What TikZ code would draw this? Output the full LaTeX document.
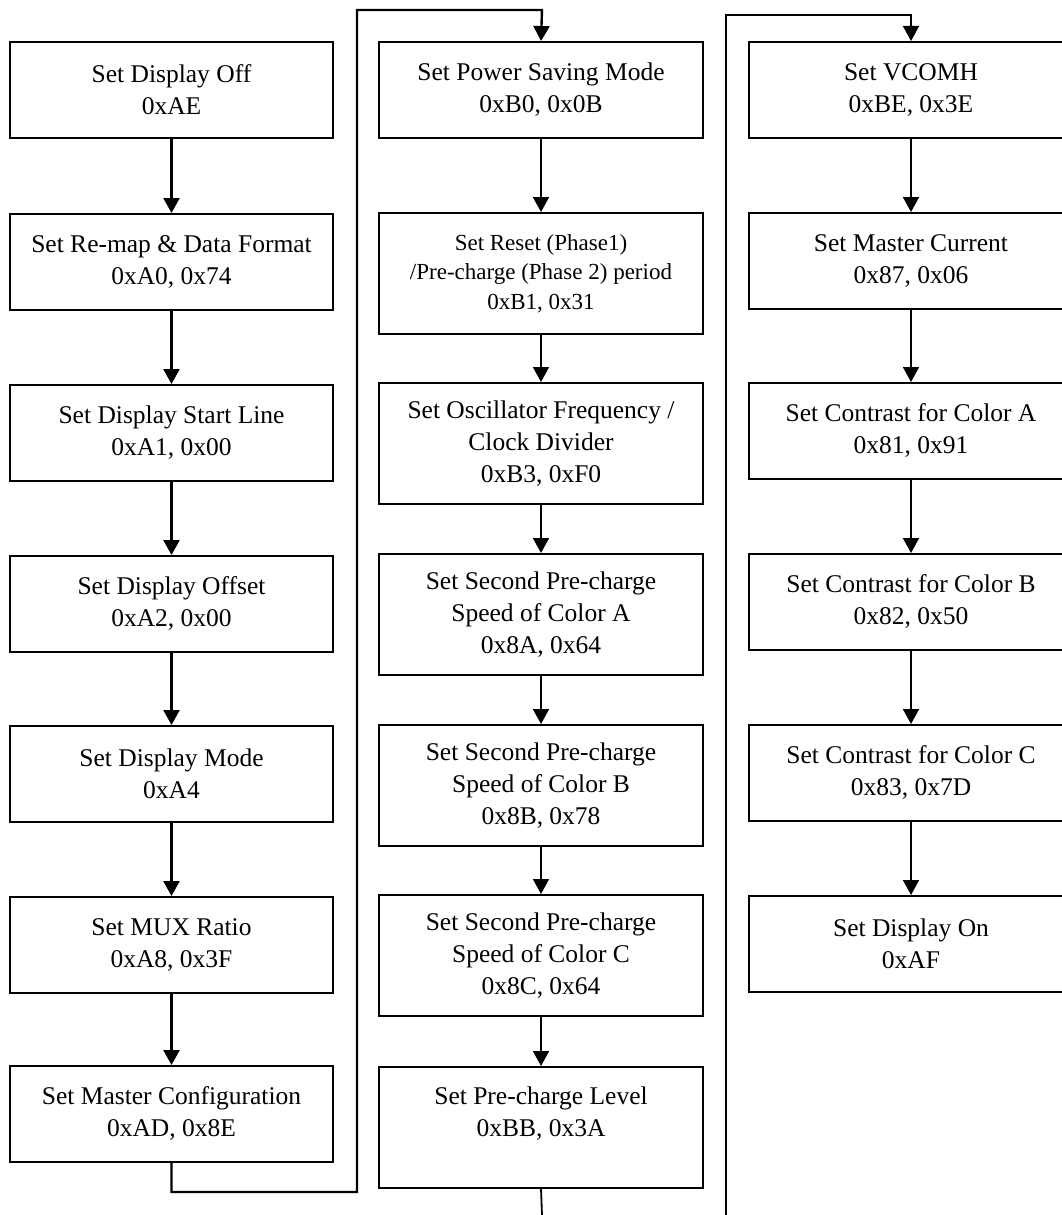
\documentclass[tikz,border=0pt]{standalone}
\usepackage{fontspec}
\setmainfont{Liberation Serif}
\usetikzlibrary{arrows.meta}
\tikzset{
  cmdbox/.style={draw, line width=1.6pt, anchor=north, minimum width=324pt,
    minimum height=96pt, align=center, inner sep=0pt,
    font=\fontsize{25.5}{32}\selectfont},
  cmdtall/.style={cmdbox, minimum height=121pt},
  flow/.style={line width=1.8pt, -{Triangle[length=15pt,width=16pt]}},
  flowbold/.style={flow, line width=2.4pt}
}
\begin{document}
\begin{tikzpicture}[x=1pt,y=-1pt]
  \useasboundingbox (0,0) rectangle (1062,1215);
  \node[cmdbox,minimum width=323pt] (lc1) at (171.5,41) {Set Display Off\\0xAE};
  \node[cmdbox,minimum width=323pt] (lc2) at (171.5,213) {Set Re-map \& Data Format\\0xA0, 0x74};
  \node[cmdbox,minimum width=323pt] (lc3) at (171.5,384) {Set Display Start Line\\0xA1, 0x00};
  \node[cmdbox,minimum width=323pt] (lc4) at (171.5,555) {Set Display Offset\\0xA2, 0x00};
  \node[cmdbox,minimum width=323pt] (lc5) at (171.5,725) {Set Display Mode\\0xA4};
  \node[cmdbox,minimum width=323pt] (lc6) at (171.5,896) {Set MUX Ratio\\0xA8, 0x3F};
  \node[cmdbox,minimum width=323pt] (lc7) at (171.5,1065) {Set Master Configuration\\0xAD, 0x8E};
  \node[cmdbox] (mc1) at (541,41) {Set Power Saving Mode\\0xB0, 0x0B};
  \node[cmdtall,font=\fontsize{23}{29.5}\selectfont] (mc2) at (541,212) {Set Reset (Phase1)\\/Pre-charge (Phase 2) period\\0xB1, 0x31};
  \node[cmdtall] (mc3) at (541,382) {Set Oscillator Frequency /\\Clock Divider\\0xB3, 0xF0};
  \node[cmdtall] (mc4) at (541,553) {Set Second Pre-charge\\Speed of Color A\\0x8A, 0x64};
  \node[cmdtall] (mc5) at (541,724) {Set Second Pre-charge\\Speed of Color B\\0x8B, 0x78};
  \node[cmdtall] (mc6) at (541,894) {Set Second Pre-charge\\Speed of Color C\\0x8C, 0x64};
  \node[cmdtall] (mc7) at (541,1066) {Set Pre-charge Level\\0xBB, 0x3A\\ \mbox{}};
  \node[cmdbox] (rc1) at (911,41) {Set VCOMH\\0xBE, 0x3E};
  \node[cmdbox] (rc2) at (911,212) {Set Master Current\\0x87, 0x06};
  \node[cmdbox] (rc3) at (911,382) {Set Contrast for Color A\\0x81, 0x91};
  \node[cmdbox] (rc4) at (911,553) {Set Contrast for Color B\\0x82, 0x50};
  \node[cmdbox] (rc5) at (911,724) {Set Contrast for Color C\\0x83, 0x7D};
  \node[cmdbox] (rc6) at (911,895) {Set Display On\\0xAF};
  \foreach \a/\b in {lc1/lc2,lc2/lc3,lc3/lc4,lc4/lc5,lc5/lc6,lc6/lc7}
    \draw[flowbold] (\a.south) -- (\b.north);
  \foreach \a/\b in {mc1/mc2,mc2/mc3,mc3/mc4,mc4/mc5,mc5/mc6,mc6/mc7,
                     rc1/rc2,rc2/rc3,rc3/rc4,rc4/rc5,rc5/rc6}
    \draw[flow] (\a.south) -- (\b.north);
  \coordinate (turnL1) at (357,1192);
  \coordinate (turnL2) at (542,10);
  \draw[flowbold] (lc7.south) |- (turnL1) |- (turnL2) -- (mc1.north);
  \coordinate (outM) at (542,1215);
  \draw[line width=1.8pt] (mc7.south) -- (outM);
  \coordinate (outR) at (726,1215);
  \coordinate (turnR) at (911,15);
  \draw[flow] (outR) |- (turnR) -- (rc1.north);
\end{tikzpicture}
\end{document}
